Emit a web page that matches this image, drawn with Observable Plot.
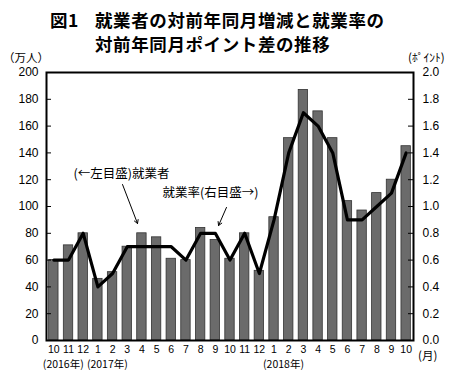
<!DOCTYPE html>
<html><head><meta charset="utf-8">
<script src="https://cdn.jsdelivr.net/npm/d3@7"></script>
<script src="https://cdn.jsdelivr.net/npm/@observablehq/plot@0.6"></script>
<style>
body{margin:0;background:#fff;}
#wrap{position:relative;width:466px;height:383px;font-family:"Liberation Sans","Noto Sans CJK JP",sans-serif;}
#wrap svg{position:absolute;left:0;top:0;}
.a{position:absolute;white-space:nowrap;color:#000;}
.t{font-family:"Noto Sans CJK JP",sans-serif;font-weight:bold;font-size:17.5px;line-height:1;letter-spacing:0.6px;}
.u{font-family:"Noto Sans CJK JP",sans-serif;font-size:11.5px;line-height:1;}
</style></head>
<body><div id="wrap"></div>
<script>
const months = ["10","11","12","1","2","3","4","5","6","7","8","9","10","11","12","1","2","3","4","5","6","7","8","9","10"];
const employedChange = [60,71,80,46,51,70,80,77,61,60,84,75,61,80,52,92,151,187,171,151,104,97,110,120,145];
const rateChange = [0.6,0.6,0.8,0.4,0.5,0.7,0.7,0.7,0.7,0.6,0.8,0.8,0.6,0.8,0.5,0.9,1.4,1.7,1.6,1.4,0.9,0.9,1.0,1.1,1.4];
const yearIndex = [0,3,15];
const yearLabels = ["(2016年)","(2017年)","(2018年)"];
const leftTicks = [0,20,40,60,80,100,120,140,160,180,200];
const rightTicks = [0.0,0.2,0.4,0.6,0.8,1.0,1.2,1.4,1.6,1.8,2.0];
const noteTexts = ["(←左目盛)就業者","就業率(右目盛→)"];
const notePos = [[4.61,124.6],[10.67,110]];
const arrowFrom = [[4.68,116.4],[11.76,99.3]];
const arrowTo = [[5.70,87.3],[11.22,85.8]];

const data = months.map((m,i)=>({i, m, emp: employedChange[i], rate: rateChange[i]}));
const years = yearIndex.map((i,k)=>({i, label: yearLabels[k]}));
const notes = noteTexts.map((t,k)=>({t, x: notePos[k][0], y: notePos[k][1]}));
const arrows = arrowFrom.map((f,k)=>({x1:f[0],y1:f[1],x2:arrowTo[k][0],y2:arrowTo[k][1]}));
const RATE_SCALE = 100; // right axis 0–2.0 maps to left 0–200

const chart = Plot.plot({
  width: 466, height: 383,
  marginLeft: 46, marginRight: 53, marginTop: 72, marginBottom: 43,
  style: {fontFamily: '"Liberation Sans", "Noto Sans CJK JP", sans-serif', background: "#fff", color: "#000"},
  x: {domain: [-0.5, 24.5]},
  y: {domain: [0, 200]},
  marks: [
    Plot.rectY(data, {x1: d => d.i - 0.32, x2: d => d.i + 0.32, y1: 0, y2: "emp", fill: "#6b6b6b", stroke: "#333", strokeWidth: 0.8}),
    Plot.line(data, {x: "i", y: d => d.rate * RATE_SCALE, stroke: "#000", strokeWidth: 3.2}),
    Plot.tickY(leftTicks, {y: d => d, insetRight: 367 - 5, stroke: "#000", strokeWidth: 1}),
    Plot.tickY(leftTicks, {y: d => d, insetLeft: 367 - 5, stroke: "#000", strokeWidth: 1}),
    Plot.frame({stroke: "#000", strokeWidth: 2}),
    Plot.axisY({ticks: leftTicks, tickSize: 0, tickPadding: 8, fontSize: 12, label: null}),
    Plot.axisY({anchor: "right", ticks: rightTicks.map(v => v * RATE_SCALE), tickFormat: d => (d / RATE_SCALE).toFixed(1), tickSize: 0, tickPadding: 9, fontSize: 12, label: null}),
    Plot.axisX({ticks: d3.range(months.length), tickFormat: i => months[i], tickSize: 0, tickPadding: 5, fontSize: 10.5, label: null}),
    Plot.text(years, {x: "i", text: "label", frameAnchor: "bottom", textAnchor: "start", dx: -11, dy: 27, fontSize: 10.5, fontFamily: '"Noto Sans CJK JP", sans-serif'}),
    Plot.text(notes, {x: "x", y: "y", text: "t", fontSize: 12.5, fontFamily: '"Noto Sans CJK JP", sans-serif'}),
    Plot.arrow(arrows, {x1: "x1", y1: "y1", x2: "x2", y2: "y2", stroke: "#000", strokeWidth: 1, headLength: 6})
  ]
});
const wrap = document.getElementById("wrap");
wrap.appendChild(chart);
const add = (cls, txt, left, top) => { const d = document.createElement("div"); d.className = "a " + cls; d.textContent = txt; d.style.left = left + "px"; d.style.top = top + "px"; wrap.appendChild(d); };
add("t", "図1", 50, 11);
add("t", "就業者の対前年同月増減と就業率の", 95, 11);
add("t", "対前年同月ポイント差の推移", 95, 35);
add("u", "（万人）", 3, 52);
add("u", "(ﾎﾟｲﾝﾄ)", 408, 52);
add("u", "(月)", 418, 350);
</script>
</body></html>
